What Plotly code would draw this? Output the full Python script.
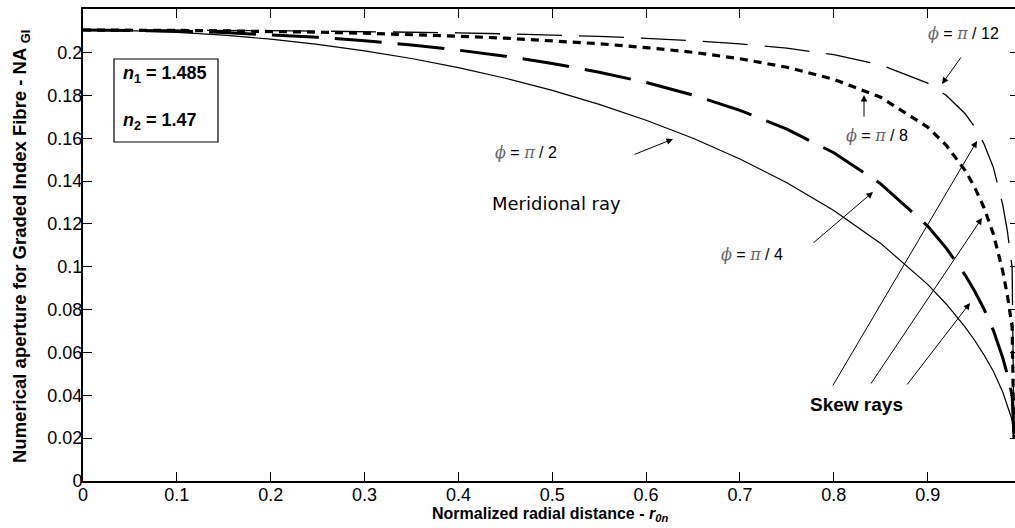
import plotly.graph_objects as go

# ---------------- data ----------------
r0n = [0, 0.05, 0.1, 0.15, 0.2, 0.25, 0.3, 0.35, 0.4, 0.45, 0.5, 0.55, 0.6,
       0.65, 0.7, 0.75, 0.8, 0.85, 0.9, 0.92, 0.94, 0.95, 0.96, 0.97, 0.98,
       0.985, 0.99, 0.992]

na_phi_pi2 = [0.2105, 0.2102, 0.2094, 0.2081, 0.2062, 0.2038, 0.2008, 0.1972,
              0.1929, 0.1880, 0.1823, 0.1758, 0.1684, 0.1600, 0.1503, 0.1392,
              0.1263, 0.1109, 0.0918, 0.0825, 0.0718, 0.0657, 0.0589, 0.0512,
              0.0415, 0.0355, 0.0285, 0.0200]

na_phi_pi4 = [0.2105, 0.2104, 0.2100, 0.2093, 0.2083, 0.2071, 0.2055, 0.2035,
              0.2011, 0.1983, 0.1949, 0.1908, 0.1860, 0.1801, 0.1730, 0.1642,
              0.1532, 0.1387, 0.1190, 0.1086, 0.0961, 0.0887, 0.0803, 0.0703,
              0.0575, 0.0495, 0.0400, 0.0200]

na_phi_pi8 = [0.2105, 0.2105, 0.2103, 0.2101, 0.2099, 0.2095, 0.2090, 0.2084,
              0.2076, 0.2067, 0.2055, 0.2041, 0.2023, 0.2001, 0.1971, 0.1931,
              0.1875, 0.1791, 0.1652, 0.1566, 0.1449, 0.1372, 0.1276, 0.1153,
              0.0980, 0.0865, 0.0720, 0.0200]

na_phi_pi12 = [0.2105, 0.2105, 0.2104, 0.2103, 0.2102, 0.2100, 0.2098, 0.2095,
               0.2092, 0.2087, 0.2082, 0.2075, 0.2066, 0.2055, 0.2040, 0.2020,
               0.1990, 0.1942, 0.1857, 0.1799, 0.1714, 0.1654, 0.1574, 0.1464,
               0.1290, 0.1165, 0.0995, 0.0200]

x_ticks = [0, 0.1, 0.2, 0.3, 0.4, 0.5, 0.6, 0.7, 0.8, 0.9]
x_tick_text = ["0", "0.1", "0.2", "0.3", "0.4", "0.5", "0.6", "0.7", "0.8", "0.9"]
y_ticks = [0, 0.02, 0.04, 0.06, 0.08, 0.1, 0.12, 0.14, 0.16, 0.18, 0.2]
y_tick_text = ["0", "0.02", "0.04", "0.06", "0.08", "0.1", "0.12", "0.14",
               "0.16", "0.18", "0.2"]

# ---------------- layout geometry (window pixels) ----------------
# The figure is a little wider than the window so that, as in the reference,
# the right-hand frame line falls just outside the visible picture.
W, H = 1019, 528
PLOT_L, PLOT_T, PLOT_B, PLOT_R = 83, 9, 481, 1019
ML, MT, MR, MB = PLOT_L, PLOT_T, W - PLOT_R, H - PLOT_B
PLOT_W = W - ML - MR
PLOT_H = H - MT - MB
PX_PER_X = 938.5
PX_PER_Y = 2142.5
X_MAX = PLOT_W / PX_PER_X
Y_MAX = PLOT_H / PX_PER_Y


def fx(px):
    return (px - PLOT_L) / PX_PER_X


def fy(py):
    return (PLOT_B - py) / PX_PER_Y


FONT = "Liberation Sans, Arial, sans-serif"

fig = go.Figure()

series = [
    (na_phi_pi2, dict(color="black", width=1.2, dash="solid")),
    (na_phi_pi4, dict(color="black", width=3, dash="47px,16px")),
    (na_phi_pi8, dict(color="black", width=3.2, dash="8px,6px")),
    (na_phi_pi12, dict(color="black", width=1.3, dash="45px,17px")),
]
for vals, ln in series:
    fig.add_trace(go.Scatter(x=r0n, y=vals, mode="lines", line=ln,
                             showlegend=False, hoverinfo="skip"))

annotations = []


def label(px, py, text, size=16, bold=False, xanchor="center", family=FONT):
    annotations.append(dict(x=fx(px), y=fy(py), xref="x", yref="y",
                            text=("<b>%s</b>" % text) if bold else text,
                            showarrow=False, xanchor=xanchor, yanchor="middle",
                            font=dict(family=family, size=size, color="black")))


def arrow(tx, ty, hx, hy):
    annotations.append(dict(x=fx(hx), y=fy(hy), xref="x", yref="y",
                            ax=tx - hx, ay=ty - hy, axref="pixel", ayref="pixel",
                            text="", showarrow=True, arrowhead=2, arrowsize=1.3,
                            arrowwidth=1, arrowcolor="black", standoff=0,
                            startstandoff=0))


SYM = '<span style="font-family:DejaVu Serif;color:#666666"><i>%s</i></span>'
PHI = SYM % "\u03d5"
PI = SYM % "\u03c0"

label(963, 33, PHI + " = " + PI + " / 12")
label(877, 135, PHI + " = " + PI + " / 8")
label(526, 152, PHI + " = " + PI + " / 2")
label(752, 254, PHI + " = " + PI + " / 4")
label(490, 203, "Meridional ray", size=18, xanchor="left", family="DejaVu Sans")
label(856, 404, "Skew rays", size=19, bold=True)
label(121, 74, "<i>n</i><sub>1</sub> = 1.485", size=18, bold=True, xanchor="left")
label(121, 121, "<i>n</i><sub>2</sub> = 1.47", size=18, bold=True, xanchor="left")

arrow(962, 56, 942, 84)
arrow(864, 118, 864, 95)
arrow(633, 155, 673, 139)
arrow(812, 244, 873, 192)
arrow(832, 387, 977, 141)
arrow(870, 385, 982, 218)
arrow(906, 386, 970, 303)

# axis titles (positions in window pixels, converted to paper fractions)
annotations.append(dict(
    x=(550 - PLOT_L) / PLOT_W, y=-(514 - PLOT_B) / PLOT_H,
    xref="paper", yref="paper", showarrow=False, xanchor="center", yanchor="middle",
    text="<b>Normalized radial distance - <i>r</i><sub><i>0n</i></sub></b>",
    font=dict(family=FONT, size=16, color="black")))
annotations.append(dict(
    x=(21 - PLOT_L) / PLOT_W, y=(PLOT_B - 247) / PLOT_H,
    xref="paper", yref="paper", showarrow=False, xanchor="center", yanchor="middle",
    textangle=-90,
    text="<b>Numerical aperture for Graded Index Fibre - NA <sub>GI</sub></b>",
    font=dict(family=FONT, size=18.5, color="black")))

shapes = [dict(type="rect", xref="x", yref="y", x0=fx(114), x1=fx(218),
               y0=fy(142), y1=fy(59), line=dict(color="black", width=1.2),
               fillcolor="rgba(0,0,0,0)")]

fig.update_layout(
    width=W, height=H,
    margin=dict(l=ML, r=MR, t=MT, b=MB, pad=0, autoexpand=False),
    paper_bgcolor="white", plot_bgcolor="white",
    annotations=annotations, shapes=shapes,
    font=dict(family=FONT, size=18, color="black"),
    xaxis=dict(range=[0, X_MAX], tickvals=x_ticks, ticktext=x_tick_text,
               ticks="inside", ticklen=9, tickwidth=1, tickcolor="black",
               showline=True, linecolor="black", linewidth=2, mirror="ticks",
               showgrid=False, zeroline=False, automargin=False,
               ticklabelstandoff=-4,
               tickfont=dict(family=FONT, size=18, color="black")),
    yaxis=dict(range=[0, Y_MAX], tickvals=y_ticks, ticktext=y_tick_text,
               ticks="inside", ticklen=9, tickwidth=1, tickcolor="black",
               showline=True, linecolor="black", linewidth=2, mirror="ticks",
               showgrid=False, zeroline=False, automargin=False,
               ticklabelstandoff=-5,
               tickfont=dict(family=FONT, size=18, color="black")),
)

# remove the default page margin so the figure sits at the window's corner
fig.write_html(
    "out.html",
    config={"displayModeBar": False},
    post_script="document.body.style.margin='0';"
                "document.body.style.overflow='hidden';"
                "document.documentElement.style.overflow='hidden';",
)
